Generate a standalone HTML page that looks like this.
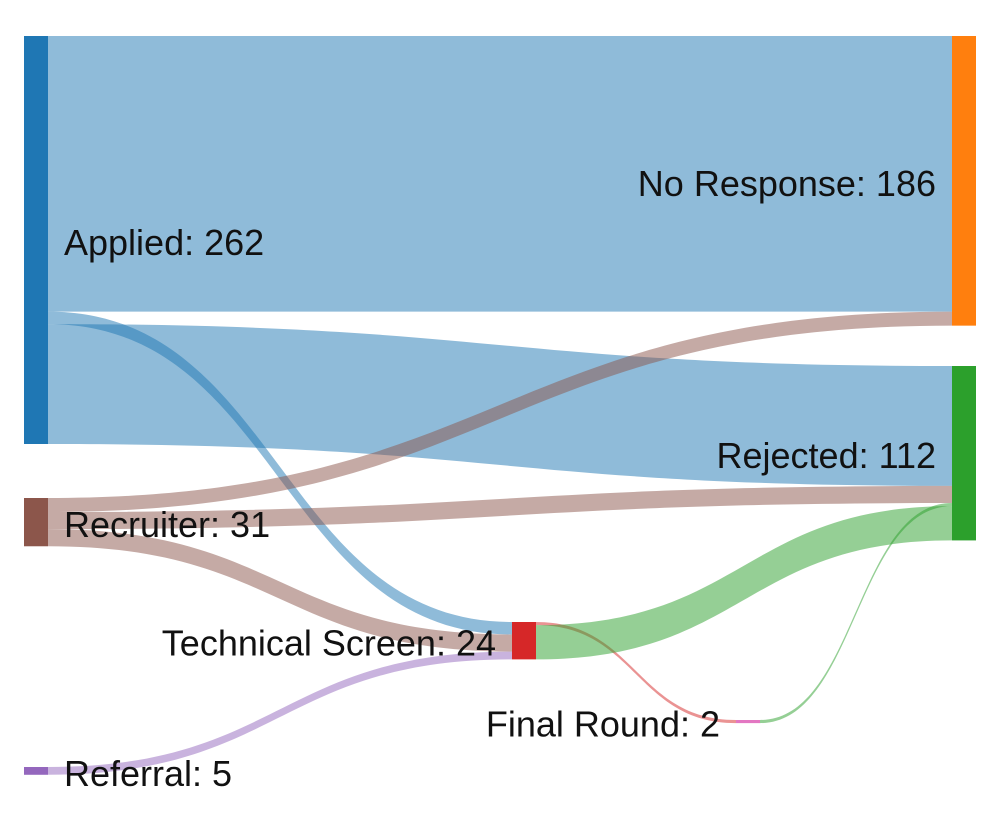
<!DOCTYPE html>
<html><head><meta charset="utf-8"><style>
html,body{margin:0;padding:0;background:#fff;}
svg text{font-family:"Liberation Sans",Arial,sans-serif;font-size:36px;fill:#111;}
</style></head><body>
<svg id="chart" width="1000" height="816"></svg>
<script>
const nodeNames = ["Applied","Recruiter","Referral","Technical Screen","Final Round","No Response","Rejected"];
const nodeValues = [262,31,5,24,2,186,112];
const linkSources = [0,0,0,1,1,1,2,3,3,4];
const linkTargets = [5,3,6,5,6,3,3,4,6,6];
const linkValues = [177,8,77,9,11,11,5,2,22,2];
// order of links when stacked at the target node
const targetOrder = [0,3,1,5,6,7,2,4,9,8];

const nodeColors = ["#1f77b4","#8c564b","#9467bd","#d62728","#e377c2","#ff7f0e","#2ca02c"];
const nodeX = [24,24,24,512,736,952,952];
const nodeTop = [36,498,767,622,720,36,366];
const labelSide = [1,1,1,-1,-1,-1,-1];
const linkColors = ["rgba(31,119,180,0.5)","rgba(31,119,180,0.5)","rgba(31,119,180,0.5)",
 "rgba(140,86,75,0.5)","rgba(140,86,75,0.5)","rgba(140,86,75,0.5)","rgba(148,103,189,0.5)",
 "rgba(214,39,40,0.5)","rgba(44,160,44,0.5)","rgba(44,160,44,0.5)"];
const NW = 24, scale = 408/262;
const svg = document.getElementById('chart');
const NS = "http://www.w3.org/2000/svg";
const srcOff = nodeTop.slice(), tgtOff = nodeTop.slice();
const geo = [];
linkValues.forEach((v,i)=>{const s=linkSources[i];geo[i]={y0:srcOff[s]};srcOff[s]+=v*scale;});
targetOrder.forEach(i=>{const t=linkTargets[i];geo[i].y1=tgtOff[t];tgtOff[t]+=linkValues[i]*scale;});
linkValues.forEach((v,i)=>{
  const s=linkSources[i], t=linkTargets[i], h=v*scale;
  const x0=nodeX[s]+NW, x1=nodeX[t], xm=(x0+x1)/2, y0=geo[i].y0, y1=geo[i].y1;
  const p=document.createElementNS(NS,'path');
  p.setAttribute('d',`M${x0},${y0}C${xm},${y0} ${xm},${y1} ${x1},${y1}L${x1},${y1+h}C${xm},${y1+h} ${xm},${y0+h} ${x0},${y0+h}Z`);
  p.setAttribute('fill',linkColors[i]);
  
  
  svg.appendChild(p);
});
nodeValues.forEach((v,i)=>{
  const h=v*scale, slug=nodeNames[i].toLowerCase().replace(/ /g,'-');
  const r=document.createElementNS(NS,'rect');
  r.setAttribute('x',nodeX[i]);r.setAttribute('y',nodeTop[i]);r.setAttribute('width',NW);r.setAttribute('height',Math.max(h,1));
  r.setAttribute('fill',nodeColors[i]);
  
  
  svg.appendChild(r);
  const t=document.createElementNS(NS,'text');
  const side=labelSide[i];
  t.setAttribute('x',side>0?nodeX[i]+NW+16:nodeX[i]-16);
  t.setAttribute('y',nodeTop[i]+h/2+15);
  t.setAttribute('text-anchor',side>0?'start':'end');
  t.textContent=nodeNames[i]+': '+v;
  
  
  svg.appendChild(t);
});
</script>
</body></html>
